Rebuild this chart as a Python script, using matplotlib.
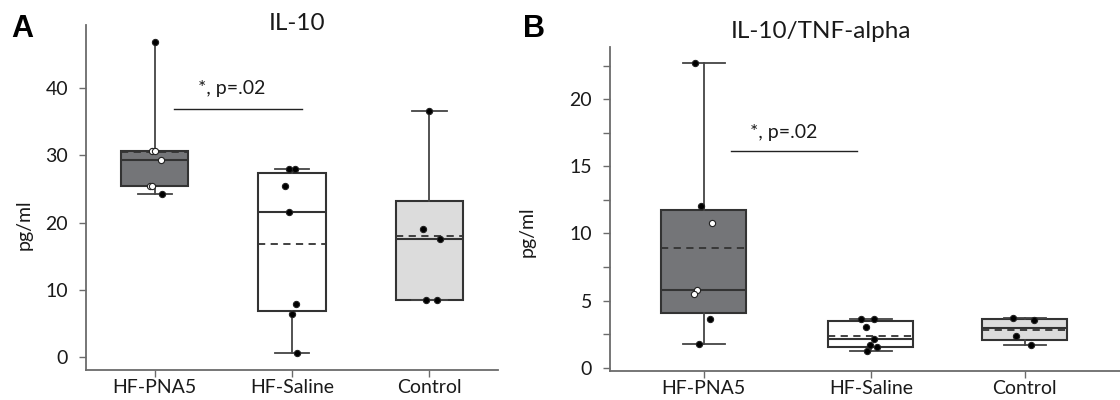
import matplotlib
matplotlib.use('Agg')
import matplotlib.pyplot as plt
from matplotlib.ticker import MultipleLocator

# --- DATA ---
groups = ['HF-PNA5', 'HF-Saline', 'Control']

# Panel A: IL-10 (pg/ml)
il10_q1 = [25.45, 6.9, 8.47]
il10_q3 = [30.65, 27.4, 23.3]
il10_med = [29.4, 21.55, 17.6]
il10_mean = [30.45, 16.9, 18.0]
il10_lo = [24.2, 0.7, 8.47]
il10_hi = [46.9, 28.0, 36.6]
il10_pts = [
    [46.9, 30.6, 30.6, 29.3, 25.5, 25.5, 24.2],
    [28.0, 28.0, 25.5, 21.6, 7.9, 6.5, 0.7],
    [36.6, 19.0, 17.6, 8.5, 8.5],
]
il10_jit = [
    [0.0, -0.017, 0.002, 0.046, -0.034, -0.02, 0.055],
    [-0.024, 0.02, -0.049, -0.02, 0.029, 0.002, 0.039],
    [0.0, -0.044, 0.078, -0.024, 0.056],
]

# Panel B: IL-10/TNF-alpha
ratio_q1 = [4.07, 1.54, 2.04]
ratio_q3 = [11.73, 3.48, 3.63]
ratio_med = [5.79, 2.11, 2.96]
ratio_mean = [8.9, 2.39, 2.81]
ratio_lo = [1.79, 1.22, 1.71]
ratio_hi = [22.73, 3.63, 3.73]
ratio_pts = [
    [22.7, 12.05, 10.8, 5.79, 5.52, 3.6, 1.78],
    [3.63, 3.63, 3.01, 2.14, 1.69, 1.54, 1.22],
    [3.73, 3.55, 2.34, 1.71],
]
ratio_jit = [
    [-0.051, -0.017, 0.051, -0.037, -0.059, 0.037, -0.027],
    [-0.057, 0.019, -0.027, 0.021, -0.005, 0.039, -0.021],
    [-0.067, 0.057, -0.051, 0.039],
]

sig_text = '*, p=.02'

# --- STYLE ---
plt.rcParams['font.family'] = ['Lato', 'DejaVu Sans']
box_colors = ['#747578', '#ffffff', '#dcdcdc']
EDGE = '#333333'
AXC = '#6b6b6b'


def draw_panel(ax, pos, q1, q3, med, mean, lo, hi, pts, jit, width, no_top_cap=()):
    stats = []
    for i in range(len(pos)):
        stats.append(dict(q1=q1[i], q3=q3[i], med=med[i], mean=mean[i],
                          whislo=lo[i], whishi=hi[i], fliers=[]))
    bp = ax.bxp(stats, positions=pos, widths=width, capwidths=0.25,
                showmeans=True, meanline=True, showfliers=False,
                patch_artist=True,
                boxprops=dict(edgecolor=EDGE, linewidth=1.5),
                medianprops=dict(color=EDGE, linewidth=1.5),
                meanprops=dict(color=EDGE, linestyle=(0, (4, 3)), linewidth=1.3),
                whiskerprops=dict(color='#444444', linewidth=1.3),
                capprops=dict(color='#444444', linewidth=1.3))
    for patch, c in zip(bp['boxes'], box_colors):
        patch.set_facecolor(c)
    for i in no_top_cap:
        bp['caps'][2 * i + 1].set_visible(False)
    # points; inside the dark box they are drawn white
    for i in range(len(pos)):
        for v, j in zip(pts[i], jit[i]):
            face = 'black'
            if i == 0 and q1[i] <= v <= q3[i]:
                face = 'white'
            ax.scatter(pos[i] + j, v, s=20, facecolor=face, edgecolor='#222222',
                       linewidth=0.8, zorder=5)
    for s in ['top', 'right']:
        ax.spines[s].set_visible(False)
    for s in ['left', 'bottom']:
        ax.spines[s].set_color(AXC)
        ax.spines[s].set_linewidth(1.3)
    ax.set_xticks(pos)
    ax.set_xticklabels(groups, fontsize=14)
    ax.tick_params(axis='both', colors=AXC, labelcolor='#1a1a1a', labelsize=14,
                   length=5, width=1.0)
    ax.tick_params(axis='y', which='both', pad=8)
    ax.tick_params(axis='x', pad=1.5)


fig = plt.figure(figsize=(11.2, 4.0), dpi=100)

# --- PANEL A ---
axA = fig.add_axes([86 / 1120, 0.075, 412 / 1120, 0.8625])
posA = [0, 1, 2]
draw_panel(axA, posA, il10_q1, il10_q3, il10_med, il10_mean, il10_lo, il10_hi,
           il10_pts, il10_jit, 0.49, no_top_cap=(0,))
axA.set_xlim(-0.5, 2.5)
axA.set_ylim(-1.9, 49.4)
axA.set_yticks([0, 10, 20, 30, 40])
axA.plot([0.14, 1.07], [36.85, 36.85], color='#222222', linewidth=1.0)
axA.text(0.56, 40.0, sig_text, fontsize=14, ha='center', va='center', color='#1a1a1a')

# --- PANEL B ---
axB = fig.add_axes([610 / 1120, 0.0725, 510 / 1120, 0.8108])
posB = [0, 1, 1.92]
draw_panel(axB, posB, ratio_q1, ratio_q3, ratio_med, ratio_mean, ratio_lo, ratio_hi,
           ratio_pts, ratio_jit, 0.51)
axB.set_xlim(-0.56, 2.49)
axB.set_ylim(-0.25, 23.92)
axB.yaxis.set_major_locator(MultipleLocator(5))
axB.yaxis.set_minor_locator(MultipleLocator(2.5))
axB.tick_params(axis='y', which='minor', length=5, width=1.0, colors=AXC)
axB.plot([0.165, 0.92], [16.12, 16.12], color='#222222', linewidth=1.0)
axB.text(0.48, 17.56, sig_text, fontsize=14, ha='center', va='center', color='#1a1a1a')

# --- TEXTS ---
fig.text(297 / 1120, 1 - 30 / 400, 'IL-10', fontsize=17.5, ha='center', va='baseline', color='#1a1a1a')
fig.text(821 / 1120, 1 - 38 / 400, 'IL-10/TNF-alpha', fontsize=17.5, ha='center', va='baseline', color='#1a1a1a')
fig.text(24 / 1120, 1 - 225 / 400, 'pg/ml', fontsize=14, rotation=90, ha='center', va='center', color='#1a1a1a')
fig.text(527 / 1120, 1 - 232 / 400, 'pg/ml', fontsize=14, rotation=90, ha='center', va='center', color='#1a1a1a')
fig.text(11 / 1120, 0.965, 'A', fontsize=22, fontweight='bold', family='Liberation Sans', va='top')
fig.text(523 / 1120, 0.965, 'B', fontsize=22, fontweight='bold', family='Liberation Sans', va='top')

plt.savefig('out.png', dpi=100)
